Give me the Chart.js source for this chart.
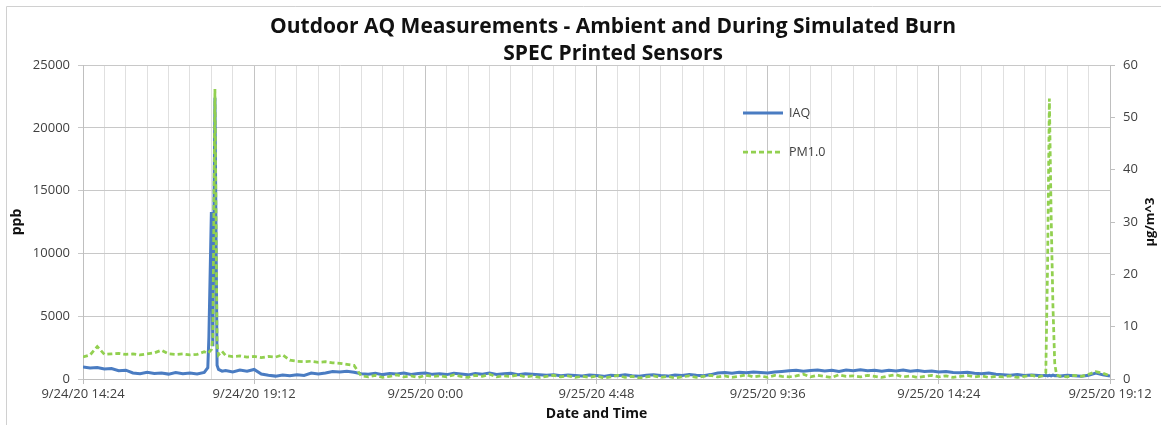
<!DOCTYPE html>
<html lang="en">
  <head>
    <meta charset="UTF-8" />
    <title>Outdoor AQ Measurements</title>
    <script src="https://cdn.jsdelivr.net/npm/chart.js"></script>
    <style>
      body {
        margin: 0;
        background: #fff;
      }
      #wrap {
        width: 1161px;
        height: 425px;
      }
    </style>
  </head>
  <body>
    <div id="wrap">
      <canvas id="aqChart" width="1161" height="425"></canvas>
    </div>

    <script>
      // hours after 9/24/20 14:24
      const hours = [
        0, 0.2, 0.4, 0.6, 0.8, 1.0, 1.2, 1.4, 1.6, 1.8,
        2.0, 2.2, 2.4, 2.6, 2.8, 3.0, 3.2, 3.4,
        3.5, 3.53, 3.6, 3.64, 3.7, 3.76, 3.8, 3.9,
        4.0, 4.2, 4.4, 4.6, 4.8, 5.0, 5.2, 5.4, 5.6, 5.8,
        6.0, 6.2, 6.4, 6.6, 6.8, 7.0, 7.2, 7.4, 7.6, 7.8,
        8.0, 8.2, 8.4, 8.6, 8.8, 9.0, 9.2, 9.4, 9.6, 9.8,
        10.0, 10.2, 10.4, 10.6, 10.8, 11.0, 11.2, 11.4, 11.6, 11.8,
        12.0, 12.2, 12.4, 12.6, 12.8, 13.0, 13.2, 13.4, 13.6, 13.8,
        14.0, 14.2, 14.4, 14.6, 14.8, 15.0, 15.2, 15.4, 15.6, 15.8,
        16.0, 16.2, 16.4, 16.6, 16.8, 17.0, 17.2, 17.4, 17.6, 17.8,
        18.0, 18.2, 18.4, 18.6, 18.8, 19.0, 19.2, 19.4, 19.6, 19.8,
        20.0, 20.2, 20.4, 20.6, 20.8, 21.0, 21.2, 21.4, 21.6, 21.8,
        22.0, 22.2, 22.4, 22.6, 22.8, 23.0, 23.2, 23.4, 23.6, 23.8,
        24.0, 24.2, 24.4, 24.6, 24.8, 25.0, 25.2, 25.4, 25.6, 25.8,
        26.0, 26.2, 26.4, 26.6, 26.8,
        26.9, 27.0, 27.05, 27.1, 27.15, 27.2, 27.25, 27.3,
        27.4, 27.6, 27.8, 28.0, 28.2, 28.4, 28.6, 28.8
      ]

      // IAQ, ppb (left axis)
      const iaq = [
        950, 870, 910, 790, 830, 660, 700, 480, 420, 530,
        440, 480, 390, 510, 420, 470, 400, 520,
        900, 3300, 13300, 2600, 22400, 1100, 760, 620,
        680, 560, 710, 620, 760, 390, 300, 230, 320, 260,
        340, 280, 470, 390, 480, 600, 560, 620, 540, 420,
        380, 460, 350, 440, 390, 470, 360, 430, 480, 370,
        420, 350, 460, 400, 330, 440, 380, 470, 360, 410,
        450, 340, 420, 380, 330, 290, 340, 260, 310, 280,
        240, 320, 270, 210, 300, 250, 330, 260, 220, 290,
        340, 270, 230, 310, 280, 360, 300, 260, 350, 470,
        520, 460, 540, 490, 560, 510, 470, 550, 600, 650,
        700, 620, 680, 720, 640, 690, 600, 710, 660, 740,
        650, 700, 620, 690, 640, 720, 610, 670, 590, 640,
        560, 600, 520, 490, 540, 450, 420, 480, 380, 340,
        300, 350, 270, 320, 280,
        260, 300, 240, 290, 250, 310, 260, 280,
        230, 300, 260, 220, 290, 480, 330, 240
      ]

      // PM1.0, ug/m^3 (right axis)
      const pm10 = [
        4.2, 4.6, 6.2, 4.7, 4.8, 4.9, 4.7, 4.8, 4.6, 4.8,
        5.0, 5.5, 4.8, 4.7, 4.8, 4.6, 4.7, 5.2,
        4.9, 5.1, 5.6, 8, 55.4, 6.5, 4.6, 5.3,
        4.5, 4.3, 4.4, 4.2, 4.3, 4.1, 4.3, 4.2, 4.6, 3.6,
        3.4, 3.3, 3.4, 3.2, 3.3, 3.1, 3.0, 2.8, 2.6, 0.6,
        0.4, 0.7, 0.3, 0.5, 0.8, 0.4, 0.6, 0.3, 0.7, 0.5,
        0.6, 0.4, 0.8, 0.5, 0.3, 0.7, 0.5, 0.9, 0.4, 0.6,
        0.5, 0.8, 0.4, 0.6, 0.3, 0.5, 0.7, 0.4, 0.6, 0.3,
        0.5, 0.3, 0.6, 0.2, 0.4, 0.7, 0.3, 0.5, 0.2, 0.4,
        0.6, 0.3, 0.5, 0.2, 0.4, 0.6, 0.3, 0.5, 0.7, 0.4,
        0.6, 0.3, 0.5, 0.8, 0.4, 0.6, 0.3, 0.7, 0.5, 0.4,
        0.6, 0.9, 0.4, 0.7, 0.5, 0.3, 0.8, 0.5, 0.6, 0.4,
        0.7, 0.5, 0.3, 0.6, 0.8, 0.4, 0.6, 0.3, 0.5, 0.7,
        0.4, 0.6, 0.3, 0.5, 0.7, 0.4, 0.6, 0.3, 0.5, 0.4,
        0.6, 0.3, 0.5, 0.7, 0.4,
        0.6, 1.2, 22, 53.6, 31, 14, 3, 0.8,
        0.5, 0.4, 0.7, 0.5, 0.9, 1.4, 1.1, 0.6
      ]

      const timeLabels = [
        "9/24/20 14:24",
        "9/24/20 19:12",
        "9/25/20 0:00",
        "9/25/20 4:48",
        "9/25/20 9:36",
        "9/25/20 14:24",
        "9/25/20 19:12",
      ]

      const titleLines = [
        "Outdoor AQ Measurements - Ambient and During Simulated Burn",
        "SPEC Printed Sensors",
      ]

      const FONT = '"Open Sans", "Liberation Sans", sans-serif'
      const isMajor = (v) => Math.round(v / 0.6) % 8 === 0

      // title, legend, right axis title and the frame are drawn here
      const decor = {
        id: "decor",
        afterDraw(chart) {
          const ctx = chart.ctx
          ctx.save()

          ctx.strokeStyle = "#d0d0d0"
          ctx.lineWidth = 1
          ctx.beginPath()
          ctx.moveTo(6.5, 425)
          ctx.lineTo(6.5, 6.5)
          ctx.lineTo(1161, 6.5)
          ctx.stroke()

          ctx.fillStyle = "#111"
          ctx.textAlign = "center"
          ctx.textBaseline = "middle"
          ctx.font = "bold 21px " + FONT
          ctx.fillText(titleLines[0], 613, 27)
          ctx.fillText(titleLines[1], 613, 54)

          const rows = [113, 152]
          chart.data.datasets.forEach((ds, i) => {
            ctx.strokeStyle = ds.borderColor
            ctx.lineWidth = ds.borderWidth
            ctx.setLineDash(ds.borderDash || [])
            ctx.beginPath()
            ctx.moveTo(743, rows[i])
            ctx.lineTo(783, rows[i])
            ctx.stroke()
            ctx.setLineDash([])
            ctx.fillStyle = "#404040"
            ctx.textAlign = "left"
            ctx.font = "12.5px " + FONT
            ctx.fillText(ds.label, 789, rows[i])
          })

          ctx.translate(1150, 222)
          ctx.rotate(-Math.PI / 2)
          ctx.textAlign = "center"
          ctx.fillStyle = "#111"
          ctx.font = "bold 13px " + FONT
          ctx.fillText("\u00b5g/m^3", 0, 0)
          ctx.restore()
        },
      }

      const ctx = document.getElementById("aqChart").getContext("2d")
      const chart = new Chart(ctx, {
        type: "line",
        data: {
          labels: hours,
          datasets: [
            {
              label: "IAQ",
              data: iaq,
              yAxisID: "y",
              borderColor: "#4a7cc2",
              borderWidth: 3,
              pointRadius: 0,
              tension: 0,
              order: 2,
            },
            {
              label: "PM1.0",
              data: pm10,
              yAxisID: "y1",
              borderColor: "#92d050",
              borderWidth: 2.75,
              borderDash: [5, 3],
              pointRadius: 0,
              tension: 0,
              order: 1,
            },
          ],
        },
        options: {
          responsive: false,
          devicePixelRatio: 1,
          animation: false,
          layout: { padding: { top: 65 } },
          plugins: {
            legend: { display: false },
            tooltip: { enabled: false },
          },
          scales: {
            x: {
              type: "linear",
              min: 0,
              max: 28.8,
              afterFit: (s) => (s.height = 46),
              border: { color: "#bfbfbf" },
              grid: {
                color: (c) => (c.tick && isMajor(c.tick.value) ? "#c4c4c4" : "#e0e0e0"),
                tickColor: (c) => (c.tick && isMajor(c.tick.value) ? "#bfbfbf" : "rgba(0,0,0,0)"),
                tickLength: 5,
              },
              ticks: {
                stepSize: 0.6,
                autoSkip: false,
                maxRotation: 0,
                padding: 2,
                color: "#404040",
                font: { family: FONT, size: 13 },
                callback: (v) => {
                  const k = Math.round(v / 0.6)
                  return k % 8 === 0 ? timeLabels[k / 8] : ""
                },
              },
              title: {
                display: true,
                text: "Date and Time",
                color: "#111",
                font: { family: FONT, size: 14, weight: "bold" },
                padding: { top: 4, bottom: 3 },
              },
            },
            y: {
              position: "left",
              min: 0,
              max: 25000,
              afterFit: (s) => (s.width = 83),
              border: { color: "#bfbfbf" },
              grid: { color: "#c8c8c8", tickLength: 5 },
              ticks: {
                stepSize: 5000,
                padding: 8,
                color: "#404040",
                font: { family: FONT, size: 13 },
                callback: (v) => String(v),
              },
              title: {
                display: true,
                text: "ppb",
                color: "#111",
                font: { family: FONT, size: 14, weight: "bold" },
                padding: { top: 9, bottom: 4 },
              },
            },
            y1: {
              position: "right",
              min: 0,
              max: 60,
              afterFit: (s) => (s.width = 51),
              border: { color: "#bfbfbf" },
              grid: { drawOnChartArea: false, color: "#bfbfbf", tickLength: 5 },
              ticks: {
                stepSize: 10,
                padding: 8,
                color: "#404040",
                font: { family: FONT, size: 13 },
              },
            },
          },
        },
        plugins: [decor],
      })
    </script>
  </body>
</html>
